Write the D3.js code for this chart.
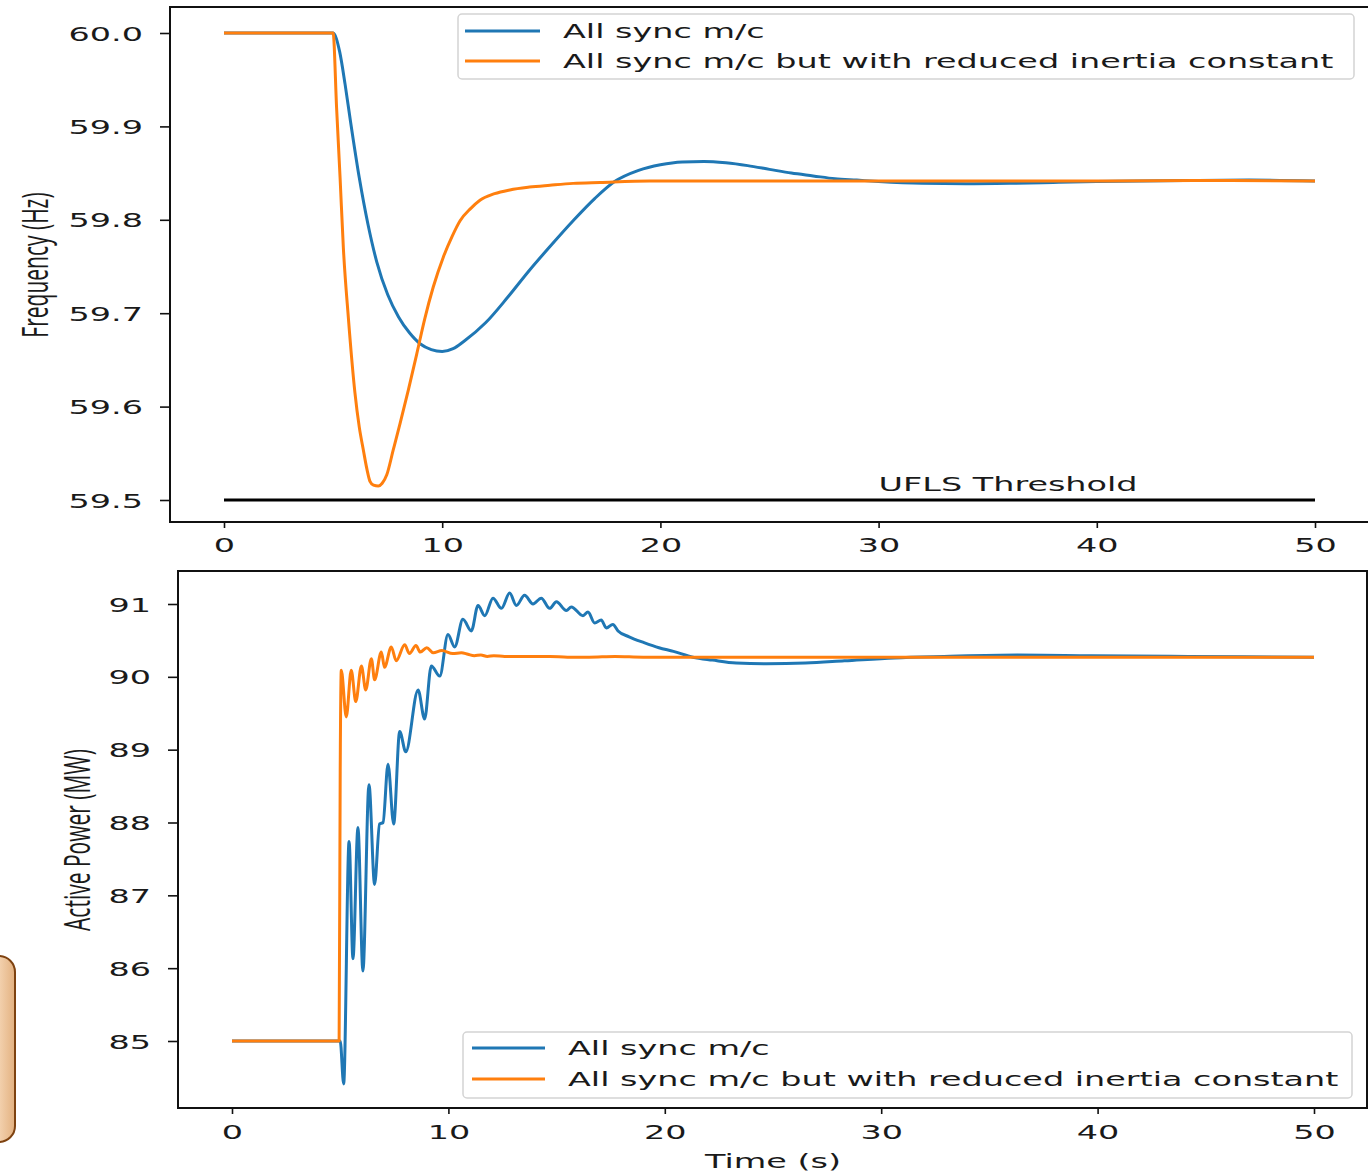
<!DOCTYPE html>
<html><head><meta charset="utf-8">
<script src="https://cdn.jsdelivr.net/npm/d3@7"></script>
<style>html,body{margin:0;padding:0;background:#fff;}svg{display:block;}</style>
</head><body>
<svg id="chart" width="1368" height="1173"></svg>
<script>
// ---------- DATA ----------
const seriesNames = ["All sync m/c", "All sync m/c but with reduced inertia constant"];
const xTicks = [0, 10, 20, 30, 40, 50];
const freqTicks = [59.5, 59.6, 59.7, 59.8, 59.9, 60.0];
const powerTicks = [85, 86, 87, 88, 89, 90, 91];
const uflsThreshold = 59.5;
const uflsLabel = "UFLS Threshold";

// Frequency, all sync m/c
const freqSyncT = [0,5,5.3,5.55,5.8,6.2,6.6,7.0,7.5,8.0,8.5,9.0,9.5,10.0,10.5,11.0,12.0,13.0,14.0,15.0,16.0,17.0,17.9,19.0,20.0,21.0,22.0,23.0,24.0,25.0,26.0,27.0,28.0,29.0,30.0,32.0,34.0,36.0,38.0,40.0,44.0,47.0,50.0];
const freqSyncV = [60,60,59.98,59.945,59.905,59.845,59.795,59.755,59.72,59.696,59.679,59.667,59.661,59.659,59.662,59.67,59.69,59.717,59.746,59.773,59.799,59.823,59.841,59.853,59.859,59.862,59.8625,59.861,59.858,59.854,59.85,59.847,59.844,59.8425,59.841,59.839,59.8385,59.839,59.84,59.841,59.842,59.8425,59.8415];
// Frequency, reduced inertia
const freqRedT = [0,5.0,5.16,5.32,5.47,5.70,6.0,6.2,6.39,6.55,6.69,6.85,7.07,7.25,7.46,7.75,8.07,8.45,8.83,9.2,9.59,10.05,10.45,10.82,11.3,11.73,12.4,13.1,14.0,14.94,16.0,17.23,19.5,25,30,35,40,45,50];
const freqRedV = [60,60,59.92,59.845,59.77,59.695,59.615,59.578,59.553,59.533,59.52,59.516,59.515,59.518,59.527,59.553,59.582,59.618,59.656,59.694,59.728,59.76,59.782,59.799,59.812,59.821,59.828,59.832,59.835,59.837,59.839,59.840,59.8415,59.8415,59.8415,59.8415,59.8415,59.842,59.8415];

// Active power, all sync m/c
const powSyncT = [0,5.0,5.16,5.41,5.59,5.82,6.05,6.33,6.59,6.82,6.98,7.21,7.47,7.75,8.03,8.6,8.9,9.21,9.6,9.98,10.29,10.67,11.06,11.37,11.68,12.06,12.45,12.83,13.14,13.52,13.91,14.29,14.68,14.99,15.45,15.68,16.22,16.45,16.76,17.06,17.3,17.6,17.84,18.35,19.04,19.73,20.4,21.3,22.2,23.3,24.7,26.5,28.3,30.6,32.9,36.3,39.7,44.2,50];
const powSyncV = [85,85,84.41,87.74,86.13,87.93,85.96,88.52,87.15,87.98,88.0,88.8,87.98,89.25,88.97,89.82,89.42,90.15,90.01,90.58,90.41,90.79,90.63,90.98,90.84,91.08,90.94,91.15,90.98,91.12,91.0,91.08,90.94,91.03,90.91,90.96,90.84,90.89,90.74,90.78,90.67,90.72,90.63,90.55,90.47,90.40,90.35,90.27,90.23,90.19,90.18,90.19,90.22,90.26,90.28,90.30,90.29,90.28,90.27];
// Active power, reduced inertia
const powRedT = [0,4.95,5.0,5.05,5.28,5.51,5.72,5.98,6.18,6.44,6.59,6.9,7.05,7.36,7.59,7.98,8.2,8.5,8.7,9.0,9.3,9.7,10.2,10.6,10.9,11.2,11.5,11.8,12.1,12.6,13.2,14.0,14.7,15.5,16.5,17.7,19,22,30,40,50];
const powRedV = [85,85,88.7,90.09,89.45,90.09,89.66,90.15,89.82,90.25,89.96,90.34,90.13,90.41,90.22,90.44,90.32,90.43,90.34,90.40,90.33,90.36,90.32,90.33,90.31,90.29,90.30,90.28,90.29,90.28,90.28,90.28,90.28,90.27,90.27,90.28,90.27,90.27,90.27,90.27,90.27];

// ---------- DRAW ----------
const SX = 1.76;           // horizontal stretch of the original picture
const FONT = "DejaVu Sans, sans-serif";
const colors = ["#1f77b4", "#ff7f0e"];
const svg = d3.select("#chart");
svg.append("rect").attr("width",1368).attr("height",1173).attr("fill","#fff");

// decorative rounded box at left edge
const defs = svg.append("defs");
const g1 = defs.append("linearGradient").attr("id","peach").attr("x1","0").attr("x2","1").attr("y1","0").attr("y2","0");
g1.append("stop").attr("offset","0").attr("stop-color","#fdf0e2");
g1.append("stop").attr("offset","0.6").attr("stop-color","#fbe2c6");
g1.append("stop").attr("offset","1").attr("stop-color","#e3b180");
svg.append("rect").attr("x",-45).attr("y",956).attr("width",60).attr("height",186).attr("rx",16)
  .attr("fill","url(#peach)").attr("stroke","#7e4210").attr("stroke-width",2);

function sText(g, x, y, txt, opts = {}) {
  return g.append("text")
    .attr("transform", `translate(${x},${y}) scale(${opts.sx || SX},1)` + (opts.rot ? ` rotate(${opts.rot})` : ""))
    .attr("font-family", opts.family || FONT)
    .attr("font-size", opts.size || 19)
    .attr("fill", opts.fill || "#1a1a1a")
    .attr("text-anchor", opts.anchor || "start")
    .text(txt);
}

const zip = (T, V) => T.map((t, i) => ({ t, v: V[i] }));

function panel(cfg) {
  const g = svg.append("g");
  const x = d3.scaleLinear().domain([0, 50]).range(cfg.xr);
  const y = d3.scaleLinear().domain(cfg.yd).range(cfg.yr);
  const clipId = "clip" + cfg.id;
  defs.append("clipPath").attr("id", clipId).append("rect")
    .attr("x", cfg.frame[0]).attr("y", cfg.frame[1])
    .attr("width", cfg.frame[2] - cfg.frame[0]).attr("height", cfg.frame[3] - cfg.frame[1]);

  const line = d3.line().x(d => x(d.t)).y(d => y(d.v)).curve(d3.curveMonotoneX);
  const lg = g.append("g").attr("clip-path", `url(#${clipId})`);
  cfg.series.forEach((s, i) => {
    lg.append("path").datum(s).attr("d", line).attr("fill", "none")
      .attr("stroke", colors[i]).attr("stroke-width", 3)
      .attr("stroke-linejoin", "round").attr("stroke-linecap", "butt");
  });
  if (cfg.after) cfg.after(g, x, y);

  // frame
  g.append("rect").attr("x", cfg.frame[0]).attr("y", cfg.frame[1])
    .attr("width", cfg.frame[2] - cfg.frame[0]).attr("height", cfg.frame[3] - cfg.frame[1])
    .attr("fill", "none").attr("stroke", "#111").attr("stroke-width", 2);

  // x axis
  const xa = g.append("g").attr("transform", `translate(0,${cfg.frame[3]})`)
    .call(d3.axisBottom(x).tickValues(xTicks).tickSize(6).tickFormat(d3.format("d")));
  xa.select(".domain").remove();
  xa.selectAll(".tick line").attr("stroke", "#111").attr("stroke-width", 1.6);
  xa.selectAll(".tick text").each(function () {
    d3.select(this).attr("x", null).attr("y", null).attr("dy", null)
      .attr("transform", `translate(0,${cfg.xLabOff}) scale(${SX},1)`)
      .attr("font-family", FONT).attr("font-size", 19).attr("fill", "#1a1a1a");
  });

  // y axis
  const ya = g.append("g").attr("transform", `translate(${cfg.frame[0]},0)`)
    .call(d3.axisLeft(y).tickValues(cfg.yTicks).tickSize(10).tickFormat(cfg.yFmt));
  ya.select(".domain").remove();
  ya.selectAll(".tick line").attr("stroke", "#111").attr("stroke-width", 1.6);
  ya.selectAll(".tick text").each(function () {
    d3.select(this).attr("x", null).attr("y", null).attr("dy", null)
      .attr("transform", `translate(${cfg.yLabOff},7) scale(${SX},1)`)
      .attr("text-anchor", "end")
      .attr("font-family", FONT).attr("font-size", 19).attr("fill", "#1a1a1a");
  });

  // y title
  sText(g, cfg.yTitlePos[0], cfg.yTitlePos[1], cfg.yTitle,
    { rot: -90, anchor: "middle", family: "Open Sans, Noto Sans, sans-serif", size: 21 });

  // legend
  const L = cfg.legend;
  g.append("rect").attr("x", L.x).attr("y", L.y).attr("width", L.w).attr("height", L.h)
    .attr("rx", 4).attr("fill", "#fff").attr("fill-opacity", 0.85)
    .attr("stroke", "#d4d4d4").attr("stroke-width", 1.5);
  seriesNames.forEach((n, i) => {
    const ly = L.y + L.first + i * L.gap;
    g.append("line").attr("x1", L.x + L.l1).attr("x2", L.x + L.l2).attr("y1", ly).attr("y2", ly)
      .attr("stroke", colors[i]).attr("stroke-width", 3);
    sText(g, L.x + L.tx, ly + 7, n);
  });
  return { x, y, g };
}

// Top: frequency
panel({
  id: "top",
  xr: [224, 1315], yd: [59.5, 60.0], yr: [500, 33],
  frame: [170, 7, 1370, 522],
  yTicks: freqTicks, yFmt: d3.format(".1f"),
  xLabOff: 30, yLabOff: -27,
  yTitle: "Frequency (Hz)", yTitlePos: [48, 265],
  series: [zip(freqSyncT, freqSyncV), zip(freqRedT, freqRedV)],
  legend: { x: 458, y: 14, w: 896, h: 65, first: 17, gap: 30, l1: 7, l2: 82, tx: 105 },
  after: (g, x, y) => {
    g.append("line").attr("x1", x(0)).attr("x2", x(50))
      .attr("y1", y(uflsThreshold)).attr("y2", y(uflsThreshold))
      .attr("stroke", "#000").attr("stroke-width", 3);
    sText(g, x(30), y(uflsThreshold) - 9, uflsLabel);
  }
});

// Bottom: active power
panel({
  id: "bot",
  xr: [232, 1314], yd: [85, 91], yr: [1041, 604],
  frame: [178, 571, 1367, 1108],
  yTicks: powerTicks, yFmt: d3.format("d"),
  xLabOff: 31, yLabOff: -27,
  yTitle: "Active Power (MW)", yTitlePos: [90, 840],
  series: [zip(powSyncT, powSyncV), zip(powRedT, powRedV)],
  legend: { x: 463, y: 1032, w: 889, h: 66, first: 16, gap: 31, l1: 9, l2: 82, tx: 105 }
});

// x-axis title
sText(svg, 773, 1168, "Time (s)", { anchor: "middle" });
</script>
</body></html>
